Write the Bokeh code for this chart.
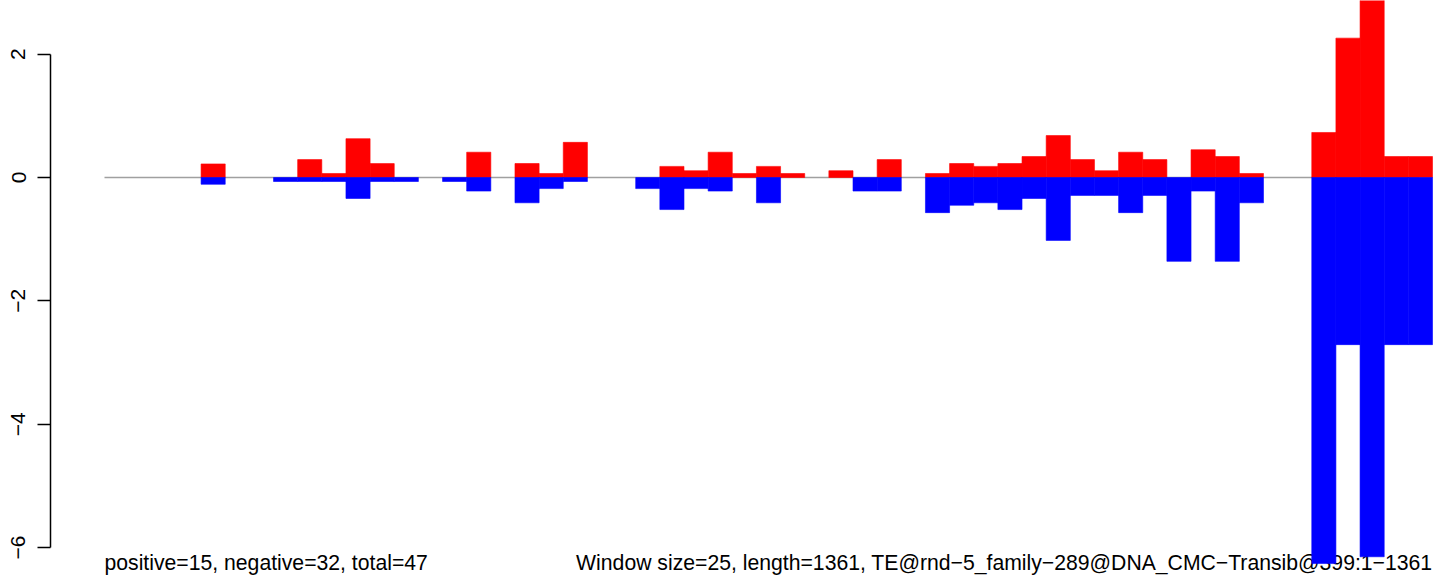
from bokeh.plotting import figure
from bokeh.models import FixedTicker, Range1d
from bokeh.core.properties import value
from bokeh.embed import file_html
from bokeh.resources import INLINE

# ---- data ----
window_size = 25
seq_length = 1361
positive_vals = [0, 0, 0, 0, 0.22, 0, 0, 0, 0.29, 0.065,
                 0.63, 0.225, 0, 0, 0, 0.41, 0, 0.227, 0.065, 0.57,
                 0, 0, 0, 0.18, 0.11, 0.41, 0.065, 0.18, 0.065, 0,
                 0.11, 0, 0.29, 0, 0.065, 0.227, 0.18, 0.227, 0.34, 0.68,
                 0.29, 0.11, 0.41, 0.29, 0, 0.45, 0.34, 0.065, 0, 0,
                 0.73, 2.26, 3.1, 0.34, 0.34]
negative_vals = [0, 0, 0, 0, -0.11, 0, 0, -0.065, -0.065, -0.065,
                 -0.34, -0.065, -0.065, 0, -0.065, -0.22, 0, -0.41, -0.18, -0.065,
                 0, 0, -0.18, -0.52, -0.18, -0.22, 0, -0.41, 0, 0,
                 0, -0.22, -0.22, 0, -0.57, -0.45, -0.41, -0.52, -0.34, -1.02,
                 -0.29, -0.29, -0.57, -0.29, -1.36, -0.22, -1.36, -0.41, 0, 0,
                 -6.26, -2.71, -6.15, -2.71, -2.71]
y_ticks = [-6, -4, -2, 0, 2]
left_note = "positive=15, negative=32, total=47"
right_note = "Window size=25, length=1361, TE@rnd\u22125_family\u2212289@DNA_CMC\u2212Transib@399:1\u22121361"

n_win = len(positive_vals)
x_end_data = n_win * window_size

# ---- layout (pixels) ----
W, H = 1456, 584
left_border = 50
frame_w = W - left_border
px_per_x = 1328.0 / x_end_data
x0_px_in_frame = 104 - left_border
x_start = -x0_px_in_frame / px_per_x
x_stop = x_start + frame_w / px_per_x
px_per_y = 61.67
zero_px = 177
y_top = zero_px / px_per_y
y_bottom = y_top - H / px_per_y

p = figure(width=W, height=H, output_backend="svg", toolbar_location=None,
           x_range=Range1d(x_start, x_stop), y_range=Range1d(y_bottom, y_top),
           x_axis_location=None, min_border_left=left_border, min_border_right=0,
           min_border_top=0, min_border_bottom=0, title=None)
p.outline_line_color = None
p.grid.visible = False
p.background_fill_color = "white"
p.border_fill_color = "white"

yax = p.yaxis[0]
yax.ticker = FixedTicker(ticks=y_ticks)
yax.bounds = (min(y_ticks), max(y_ticks))
yax.minor_tick_line_color = None
yax.major_tick_in = 0
yax.major_tick_out = 13
yax.axis_line_width = 1.5
yax.major_tick_line_width = 1.5
yax.axis_line_color = "black"
yax.major_tick_line_color = "black"
yax.major_label_orientation = "vertical"
yax.major_label_text_font = "Liberation Sans"
yax.major_label_text_font_size = "21px"
yax.major_label_text_color = "black"
yax.major_label_standoff = 12

# notes (drawn first so bars cover them)
note_y = (177 - 562) / px_per_y
p.text(x=[0], y=[note_y], text=[left_note], text_font=value("Liberation Sans"),
       text_font_size="21.2px", text_align="left", text_baseline="alphabetic",
       text_color="black")
p.text(x=[x_end_data], y=[note_y], text=[right_note], text_font=value("Liberation Sans"),
       text_font_size="21.2px", text_align="right", text_baseline="alphabetic",
       text_color="black")

# zero line
p.line(x=[0, seq_length], y=[0, 0], line_color="#a0a0a0", line_width=1.5)

# bars
pl, pr, pt = [], [], []
for i, v in enumerate(positive_vals):
    if v != 0:
        pl.append(i * window_size); pr.append((i + 1) * window_size); pt.append(v)
p.quad(left=pl, right=pr, bottom=0, top=pt, fill_color="#ff0000",
       line_color="#ff0000", line_width=0.6)

nl, nr, nb = [], [], []
for i, v in enumerate(negative_vals):
    if v != 0:
        nl.append(i * window_size); nr.append((i + 1) * window_size); nb.append(v)
p.quad(left=nl, right=nr, bottom=nb, top=0, fill_color="#0000ff",
       line_color="#0000ff", line_width=0.6)

open("out.html", "w").write(file_html(p, INLINE))
